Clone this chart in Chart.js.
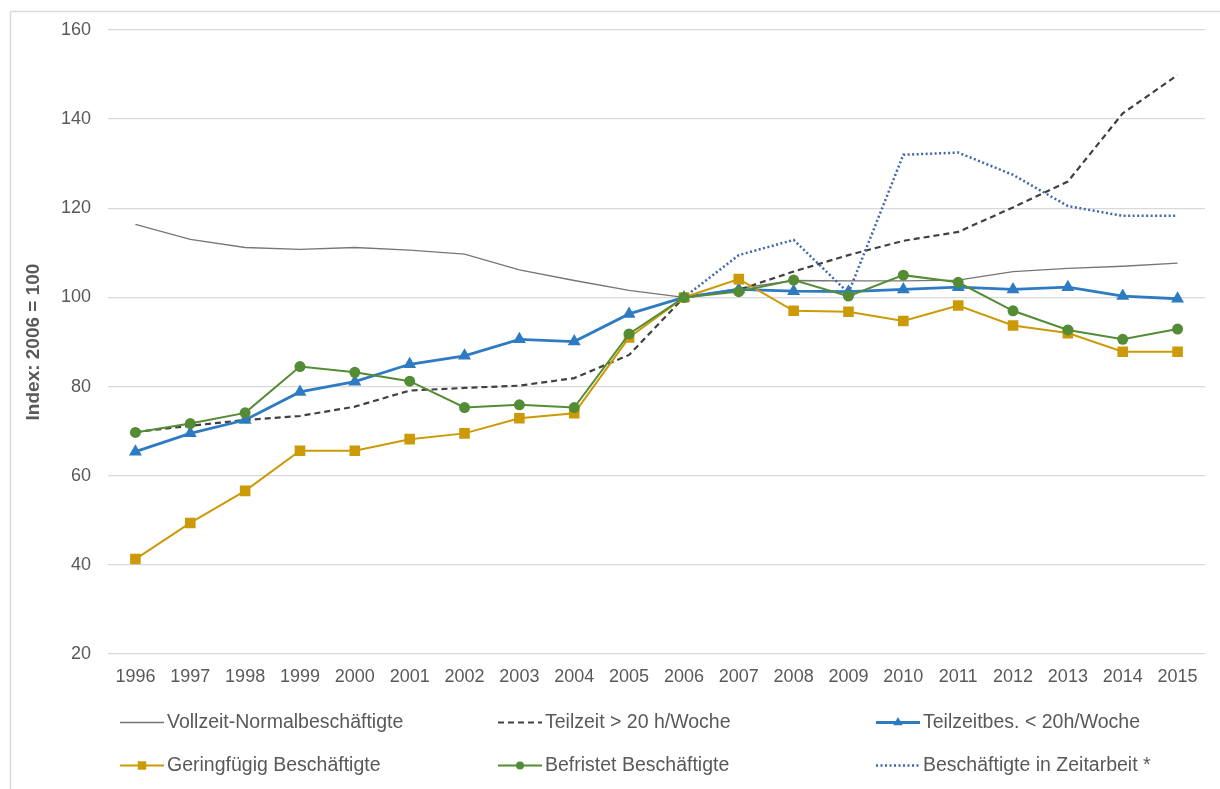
<!DOCTYPE html>
<html>
<head>
<meta charset="utf-8">
<script src="https://cdn.jsdelivr.net/npm/chart.js@4.4.1/dist/chart.umd.min.js"></script>
<style>
html,body{margin:0;padding:0;background:#fff;}
#wrap{width:1220px;height:789px;position:relative;}
</style>
</head>
<body>
<div id="wrap"><canvas id="c" width="1220" height="789"></canvas></div>
<script>
const years = ['1996','1997','1998','1999','2000','2001','2002','2003','2004','2005','2006','2007','2008','2009','2010','2011','2012','2013','2014','2015'];
const vollzeit = [116.4,113.0,111.2,110.8,111.2,110.6,109.7,106.2,103.8,101.6,100,102.0,103.8,103.7,103.7,103.9,105.8,106.5,107.0,107.7];
const teilzeitUeber20 = [69.8,71.2,72.5,73.4,75.5,79.1,79.7,80.2,81.9,87.1,100,101.7,105.8,109.5,112.7,114.7,120.2,126.0,141.3,149.9];
const teilzeitUnter20 = [65.4,69.5,72.5,78.8,81.1,85.0,86.9,90.6,90.1,96.3,100,101.8,101.4,101.3,101.8,102.3,101.8,102.3,100.3,99.7];
const geringfuegig = [41.3,49.4,56.6,65.6,65.6,68.2,69.5,72.9,74.0,91.0,100,104.1,97.0,96.8,94.7,98.2,93.7,92.0,87.8,87.8];
const befristet = [69.7,71.7,74.1,84.5,83.2,81.2,75.3,75.9,75.3,91.8,100,101.3,103.9,100.3,105.0,103.4,97.0,92.7,90.6,92.9];
const zeitarbeit = [null,null,null,null,null,null,null,null,null,null,100,109.5,112.9,101.0,132.0,132.5,127.5,120.5,118.3,118.3];
const yTicks = [20,40,60,80,100,120,140,160];
const seriesNames = ['Vollzeit-Normalbeschäftigte','Teilzeit > 20 h/Woche','Teilzeitbes. < 20h/Woche','Geringfügig Beschäftigte','Befristet Beschäftigte','Beschäftigte in Zeitarbeit *'];

const FONT = '"Liberation Sans", Arial, sans-serif';
const TXT = '#595959';

const datasets = [
  {label: seriesNames[0], data: vollzeit, borderColor:'#767676', borderWidth:1.3, pointRadius:0, order:6},
  {label: seriesNames[1], data: teilzeitUeber20, borderColor:'#404040', borderWidth:2.2, borderDash:[6,4], pointRadius:0, order:5},
  {label: seriesNames[2], data: teilzeitUnter20, borderColor:'#2e7bc4', backgroundColor:'#2e7bc4', borderWidth:2.8, pointStyle:'triangle', pointRadius:7.5, legendRadius:5.5, order:3},
  {label: seriesNames[3], data: geringfuegig, borderColor:'#cc9a06', backgroundColor:'#cc9a06', borderWidth:2, pointStyle:'rect', pointRadius:7.5, legendRadius:6, order:2},
  {label: seriesNames[4], data: befristet, borderColor:'#548c35', backgroundColor:'#548c35', borderWidth:2, pointStyle:'circle', pointRadius:5.5, legendRadius:4, order:1},
  {label: seriesNames[5], data: zeitarbeit, borderColor:'#3f66ad', borderWidth:2.5, borderDash:[2,2.5], pointRadius:0, order:4}
];
datasets.forEach(d => { d.tension = 0; d.fill = false; d.pointBorderWidth = 0; d.pointHoverRadius = d.pointRadius; if(!d.backgroundColor) d.backgroundColor = d.borderColor; });

const framePlugin = {
  id:'frame',
  beforeDraw(chart){
    const ctx = chart.ctx;
    ctx.save();
    ctx.fillStyle = '#fff';
    ctx.fillRect(0,0,chart.width,chart.height);
    ctx.strokeStyle = '#d9d9d9';
    ctx.lineWidth = 1.5;
    ctx.strokeRect(10.5, 11.5, 1230, 800);
    ctx.restore();
  }
};

const legendPlugin = {
  id:'customLegend',
  afterDraw(chart){
    const ctx = chart.ctx;
    const colX = [120, 498, 876];
    const rowY = [722, 765];
    const lineLen = 44;
    ctx.save();
    chart.data.datasets.forEach((ds, i) => {
      const x = colX[i % 3], y = rowY[Math.floor(i / 3)];
      ctx.strokeStyle = ds.borderColor;
      ctx.lineWidth = ds.borderWidth;
      ctx.setLineDash(ds.borderDash || []);
      ctx.beginPath();
      ctx.moveTo(x, y + 0.5);
      ctx.lineTo(x + lineLen, y + 0.5);
      ctx.stroke();
      ctx.setLineDash([]);
      if (ds.pointRadius > 0) {
        ctx.fillStyle = ds.backgroundColor;
        ctx.strokeStyle = ds.backgroundColor;
        Chart.helpers.drawPoint(ctx, {pointStyle: ds.pointStyle, radius: ds.legendRadius, borderWidth: 0}, x + lineLen / 2, y + 0.5);
      }
      ctx.fillStyle = TXT;
      ctx.font = '19.5px ' + FONT;
      ctx.textBaseline = 'middle';
      ctx.textAlign = 'left';
      ctx.fillText(ds.label, x + lineLen + 3, y + 1);
    });
    ctx.restore();
  }
};

new Chart(document.getElementById('c'), {
  type:'line',
  data:{labels: years, datasets},
  options:{
    responsive:false,
    animation:false,
    devicePixelRatio:1,
    layout:{padding:{left:10, right:15, top:30, bottom:0}},
    plugins:{legend:{display:false}, tooltip:{enabled:false}},
    scales:{
      x:{
        offset:true,
        grid:{display:false, drawTicks:false},
        border:{display:false},
        ticks:{color:TXT, font:{family:FONT, size:18}, padding:12, maxRotation:0, autoSkip:false},
        afterFit(s){ s.height = 135; }
      },
      y:{
        min:20, max:160,
        afterBuildTicks(s){ s.ticks = yTicks.map(v => ({value:v})); },
        grid:{color:'#d9d9d9', lineWidth:1.3, drawTicks:false},
        border:{display:false},
        ticks:{color:TXT, font:{family:FONT, size:18}, padding:17},
        title:{display:true, text:'Index: 2006 = 100', color:TXT, font:{family:FONT, size:19, weight:'bold'}, padding:{top:12, bottom:0}},
        afterFit(s){ s.width = 98; }
      }
    }
  },
  plugins:[framePlugin, legendPlugin]
});
</script>
</body>
</html>
